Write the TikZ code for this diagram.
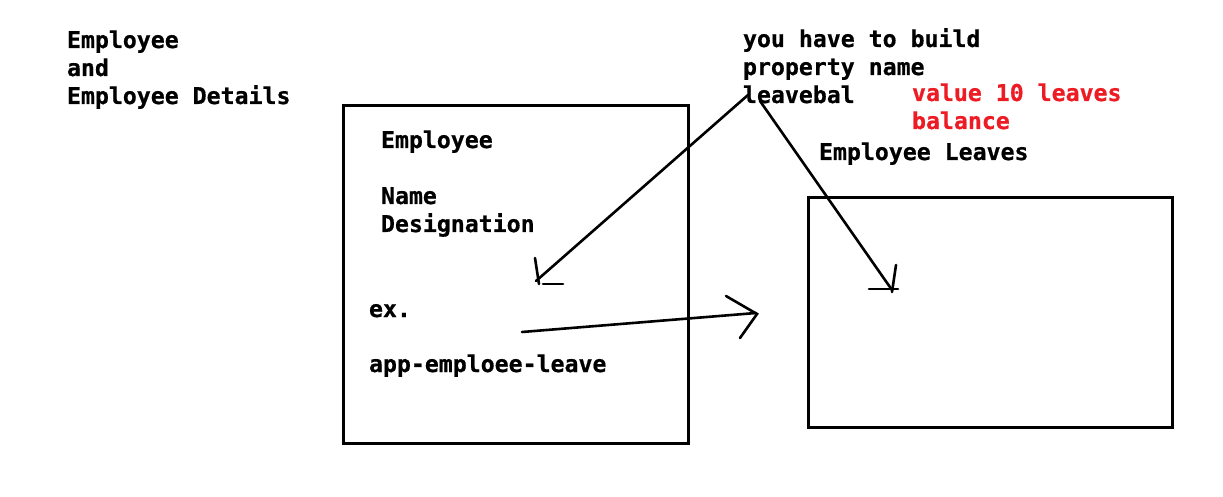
\documentclass[tikz,border=0pt]{standalone}
\usepackage{fontspec}
\newfontfamily\cons[BoldFeatures={FakeBold=0.6}]{DejaVu Sans Mono}
\definecolor{redtxt}{RGB}{237,28,36}
\begin{document}
\begin{tikzpicture}[x=1pt,y=-1pt,
  lbl/.style={anchor=base west,inner sep=0pt,outer sep=0pt,
    font=\cons\bfseries\fontsize{23.2}{28}\selectfont},
  redlbl/.style={lbl,text=redtxt},
  frame/.style={draw=black,line width=3pt},
  pen/.style={draw=black,line width=2.6pt,line cap=round}]
\useasboundingbox (0,0) rectangle (1223,497);
% boxes
\draw[frame] (343,106) rectangle (688,443);
\draw[frame] (808,198) rectangle (1172,427);
% left title
\node[lbl] (t1) at (67,48) {Employee};
\node[lbl] (t2) at (67,76) {and};
\node[lbl] (t3) at (67,104) {Employee Details};
% box 1 text
\node[lbl] (b1) at (381,148) {Employee};
\node[lbl] (b2) at (381,204) {Name};
\node[lbl] (b3) at (381,232) {Designation};
\node[lbl] (b4) at (369,317) {ex.};
\node[lbl] (b5) at (369,372) {app-emploee-leave};
% right text
\node[lbl] (r1) at (743,47) {you have to build};
\node[lbl] (r2) at (743,75) {property name};
\node[lbl] (r3) at (743,103) {leavebal};
\node[redlbl] (v1) at (912,101) {value 10 leaves};
\node[redlbl] (v2) at (912,129) {balance};
\node[lbl] (el) at (819,160) {Employee Leaves};
% connector coordinates
\coordinate (s1) at (748,95);
\coordinate (e1) at (536,281);
\coordinate (s2) at (760,101);
\coordinate (e2) at (892,290);
\coordinate (s3) at (522,332);
\coordinate (e3) at (756,313);
% arrow 1 (hand drawn head)
\draw[pen] (s1) -- (e1);
\draw[pen] (535,258) -- (539,284);
\draw[pen] (543,284) -- (563,284);
% arrow 2
\draw[pen] (s2) -- (e2);
\draw[pen] (896,265) -- (892,292);
\draw[pen] (869,289) -- (898,289);
% arrow 3
\draw[pen] (s3) -- (e3);
\draw[pen] (726,296) -- (757,314) -- (740,338);
\end{tikzpicture}
\end{document}
